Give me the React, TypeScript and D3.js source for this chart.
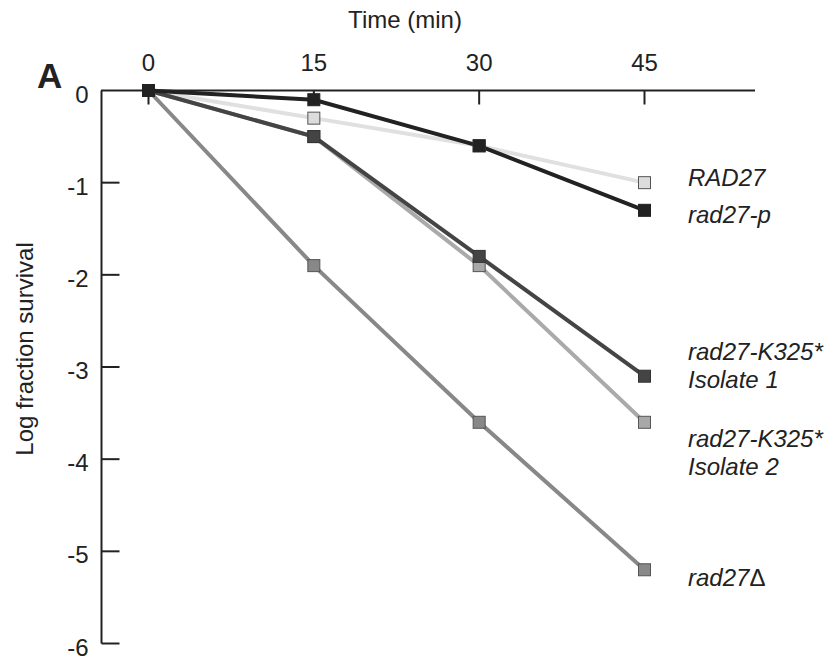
import React, { useEffect, useRef } from "react"
import * as d3 from "d3"

const times = [0, 15, 30, 45]
const xTicks = [0, 15, 30, 45]
const yTicks = [0, -1, -2, -3, -4, -5, -6]

const seriesNames = ["RAD27", "rad27-p", "rad27-K325* Isolate 1", "rad27-K325* Isolate 2", "rad27Δ"]
const rad27Values = [0, -0.3, -0.6, -1.0]
const rad27pValues = [0, -0.1, -0.6, -1.3]
const isolate1Values = [0, -0.5, -1.8, -3.1]
const isolate2Values = [0, -0.5, -1.9, -3.6]
const deltaValues = [0, -1.9, -3.6, -5.2]

// label lines drawn to the right of the last point
const labelLines = [["RAD27"], ["rad27-p"], ["rad27-K325*", "Isolate 1"], ["rad27-K325*", "Isolate 2"], ["rad27"]]

const lineColours = ["#e0e0e0", "#222222", "#444444", "#aaaaaa", "#888888"]
const markerFill = ["#dcdcdc", "#222222", "#444444", "#a8a8a8", "#888888"]
const markerStroke = ["#555555", "#222222", "#333333", "#555555", "#555555"]

const App = () => {
    const ref = useRef<SVGSVGElement>(null)

    useEffect(() => {
        if (!ref.current) return
        const svg = d3.select(ref.current)
        svg.selectAll("*").remove()

        const font = "'Liberation Sans', Arial, Helvetica, sans-serif"
        const x = d3.scaleLinear().domain([0, 45]).range([148.5, 644.5])
        const y = d3.scaleLinear().domain([0, -6]).range([90.5, 643.5])

        const series = [rad27Values, rad27pValues, isolate1Values, isolate2Values, deltaValues].map((vals, i) => ({
            name: seriesNames[i],
            points: times.map((t, j) => ({ t, v: vals[j] })),
            lines: labelLines[i],
        }))

        // top axis
        const gx = svg.append("g").attr("transform", "translate(0," + y(0) + ")")
        gx.append("line")
            .attr("x1", 101).attr("x2", 755)
            .attr("stroke", "#222").attr("stroke-width", 2)
        gx.selectAll("line.tick")
            .data(xTicks)
            .enter()
            .append("line")
            .attr("class", "tick")
            .attr("x1", (d) => x(d)).attr("x2", (d) => x(d))
            .attr("y1", 0).attr("y2", 14)
            .attr("stroke", "#222").attr("stroke-width", 2)
        gx.selectAll("text")
            .data(xTicks)
            .enter()
            .append("text")
            .attr("x", (d) => x(d))
            .attr("y", -20)
            .attr("text-anchor", "middle")
            .attr("font-family", font)
            .attr("font-size", 24)
            .attr("fill", "#222")
            .text((d) => d)

        svg.append("text")
            .attr("x", 405).attr("y", 28)
            .attr("text-anchor", "middle")
            .attr("font-family", font)
            .attr("font-size", 24)
            .attr("fill", "#222")
            .text("Time (min)")

        // left axis
        const gy = svg.append("g").attr("transform", "translate(101.5,0)")
        gy.append("line")
            .attr("y1", y(0)).attr("y2", y(-6))
            .attr("stroke", "#222").attr("stroke-width", 2)
        gy.selectAll("line.tick")
            .data(yTicks.filter((d) => d !== 0))
            .enter()
            .append("line")
            .attr("class", "tick")
            .attr("x1", 0).attr("x2", 18)
            .attr("y1", (d) => y(d)).attr("y2", (d) => y(d))
            .attr("stroke", "#222").attr("stroke-width", 2)
        gy.selectAll("text")
            .data(yTicks)
            .enter()
            .append("text")
            .attr("x", -13)
            .attr("y", (d) => y(d) + 12)
            .attr("text-anchor", "end")
            .attr("font-family", font)
            .attr("font-size", 24)
            .attr("fill", "#222")
            .text((d) => (d === 0 ? "0" : "-" + Math.abs(d)))

        svg.append("text")
            .attr("transform", "translate(33,349) rotate(-90)")
            .attr("text-anchor", "middle")
            .attr("font-family", font)
            .attr("font-size", 24)
            .attr("fill", "#222")
            .text("Log fraction survival")

        svg.append("text")
            .attr("x", 37).attr("y", 88)
            .attr("font-family", font)
            .attr("font-size", 35)
            .attr("font-weight", 700)
            .attr("fill", "#222")
            .text("A")

        const line = d3
            .line<{ t: number; v: number }>()
            .x((d) => x(d.t))
            .y((d) => y(d.v))

        // draw light series first so darker ones sit on top
        const order = [0, 4, 3, 2, 1]
        order.forEach((i) => {
            const s = series[i]
            svg.append("path")
                .datum(s.points)
                .attr("d", line)
                .attr("fill", "none")
                .attr("stroke", lineColours[i])
                .attr("stroke-width", 4)
        })
        order.forEach((i) => {
            const s = series[i]
            svg.append("g")
                .selectAll("rect")
                .data(s.points)
                .enter()
                .append("rect")
                .attr("x", (d) => x(d.t) - 6)
                .attr("y", (d) => y(d.v) - 6)
                .attr("width", 12)
                .attr("height", 12)
                .attr("fill", markerFill[i])
                .attr("stroke", markerStroke[i])
                .attr("stroke-width", 1)
        })

        // series labels (baseline of first line)
        const labelY = [y(-1.0) + 3, y(-1.3) + 13, y(-3.1) - 16, y(-3.6) + 25, y(-5.2) + 16]
        series.forEach((s, i) => {
            const t = svg.append("text")
                .attr("x", 688)
                .attr("y", labelY[i])
                .attr("font-family", font)
                .attr("font-size", 24)
                .attr("font-style", "italic")
                .attr("fill", "#222")
            s.lines.forEach((ln, k) => {
                t.append("tspan")
                    .attr("x", 688)
                    .attr("dy", k === 0 ? 0 : 28)
                    .text(ln)
            })
            if (i === 4) {
                t.append("tspan").attr("font-style", "normal").text("Δ")
            }
        })
    }, [])

    return (
        <div style={{ position: "absolute", left: 0, top: 0 }}>
            <svg ref={ref} width={837} height={663} style={{ display: "block", background: "#fff" }} />
        </div>
    )
}

export default App
